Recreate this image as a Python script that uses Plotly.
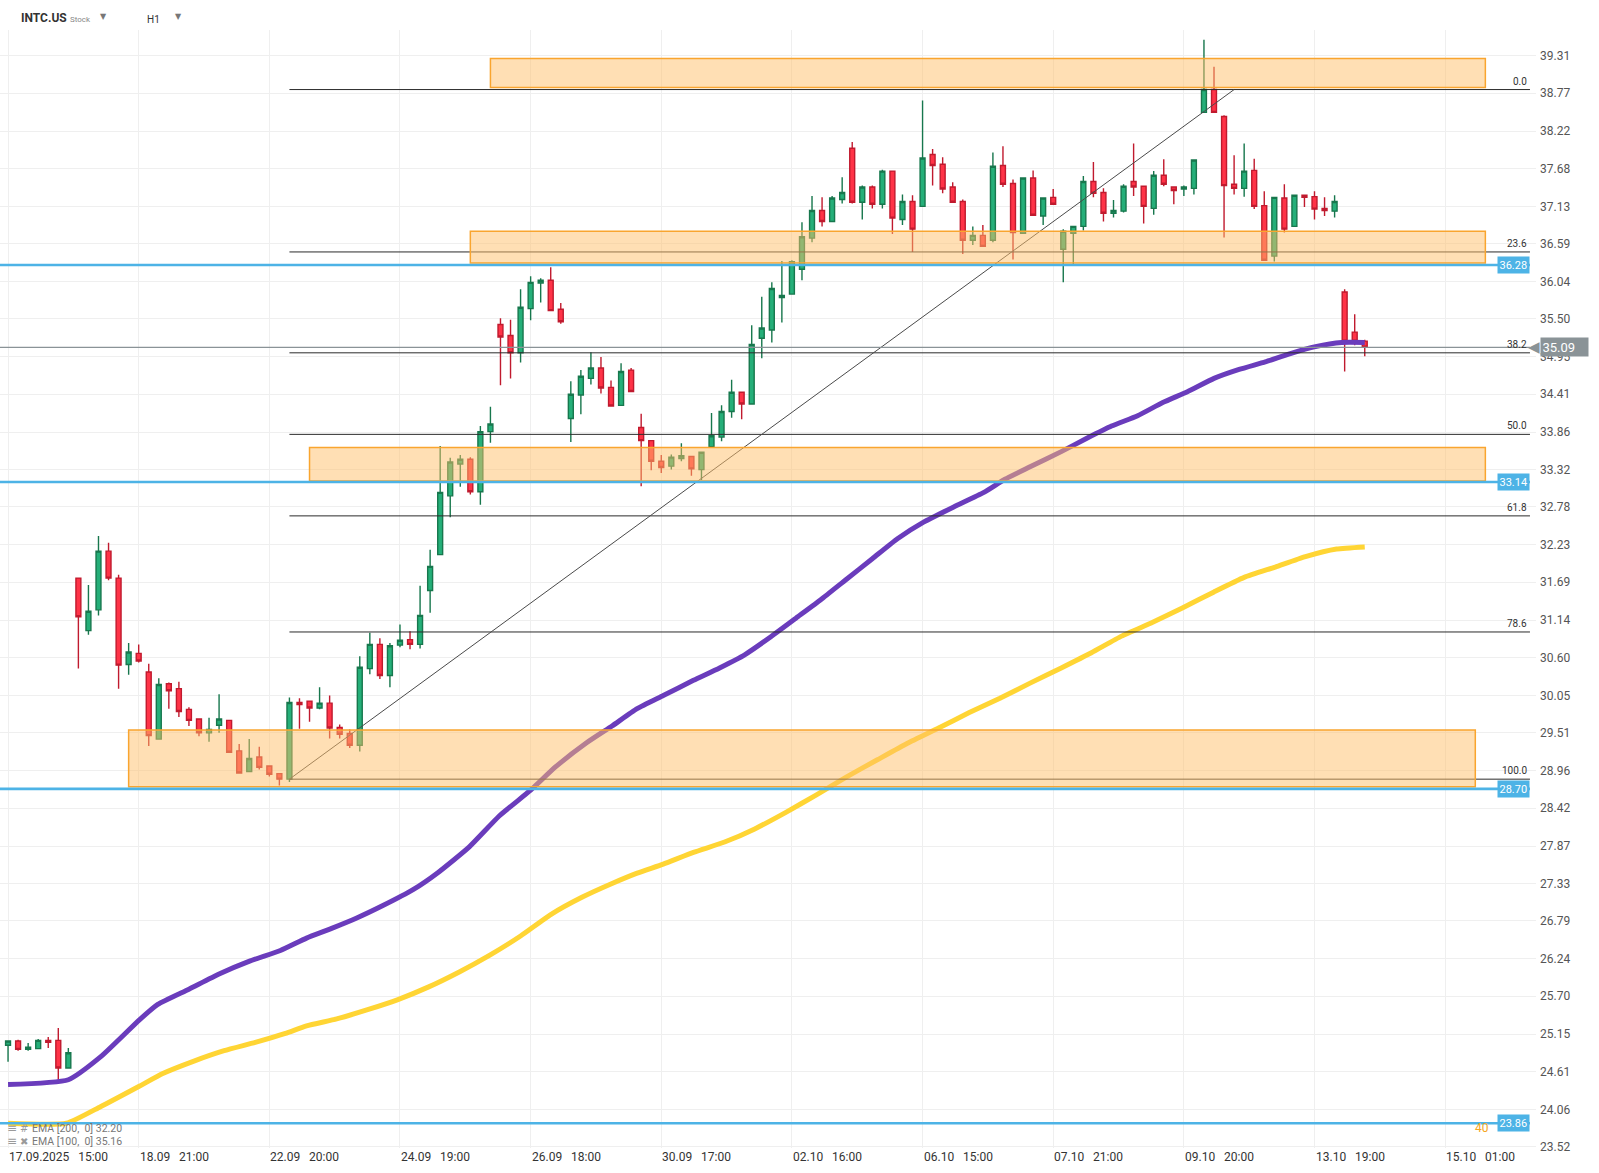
import plotly.graph_objects as go

# ---------------- data ----------------
opens = [24.99, 25.05, 24.93, 24.94, 25.06, 25.06, 24.66,
         31.75, 30.99, 31.29, 32.14, 31.75, 30.50, 30.66,
         30.39, 29.42, 30.22, 30.15, 29.85, 29.71, 29.51,
         29.62, 29.69, 29.25, 28.95, 29.16, 29.03, 28.92,
         28.84, 29.95, 29.97, 29.87, 29.94, 29.59, 29.50,
         29.33, 30.44, 30.79, 30.34, 30.78, 30.86, 30.79,
         31.57, 32.09, 32.94, 33.40, 33.47, 33.00, 33.87,
         35.42, 35.26, 35.01, 35.65, 36.02, 36.06, 35.64,
         34.06, 34.40, 34.64, 34.79, 34.51, 34.25, 34.76,
         33.93, 33.74, 33.44, 33.37, 33.48, 33.51, 33.32,
         33.65, 33.79, 34.16, 34.44, 34.27, 35.22, 35.34,
         35.81, 35.86, 36.22, 36.67, 37.07, 36.91, 37.23,
         37.97, 37.19, 37.41, 37.16, 37.64, 36.94, 37.20,
         37.13, 37.88, 37.74, 37.41, 37.20, 36.64, 36.71,
         36.64, 37.72, 37.46, 36.74, 37.54, 36.99, 37.26,
         36.51, 36.74, 36.84, 37.49, 37.33, 37.03, 37.06,
         37.49, 37.42, 37.10, 37.58, 37.41, 37.38, 37.39,
         38.49, 38.82, 38.43, 37.45, 37.39, 37.65, 37.14,
         36.41, 37.25, 36.84, 37.29, 37.27, 37.10, 37.06,
         35.89, 35.31, 35.18]
highs = [25.06, 25.07, 25.02, 25.08, 25.11, 25.24, 24.95,
         31.75, 31.65, 32.36, 32.26, 31.80, 30.81, 30.79,
         30.51, 30.30, 30.24, 30.25, 29.88, 29.71, 29.73,
         30.07, 29.69, 29.35, 29.42, 29.31, 29.03, 28.93,
         30.02, 30.01, 29.97, 30.17, 30.05, 29.63, 29.56,
         30.62, 30.96, 30.88, 30.81, 31.08, 30.98, 31.64,
         32.16, 33.66, 33.49, 33.53, 33.50, 33.95, 34.23,
         35.51, 35.49, 35.93, 36.12, 36.09, 36.25, 35.73,
         34.60, 34.76, 35.02, 34.95, 34.61, 34.86, 34.79,
         34.13, 33.74, 33.53, 33.54, 33.70, 33.51, 33.57,
         34.14, 34.25, 34.62, 34.44, 35.41, 35.82, 36.03,
         36.34, 36.35, 36.90, 37.28, 37.26, 37.28, 37.55,
         38.06, 37.43, 37.43, 37.66, 37.64, 37.30, 37.29,
         38.66, 37.96, 37.84, 37.48, 37.23, 36.84, 36.86,
         37.91, 38.00, 37.52, 37.54, 37.65, 37.25, 37.38,
         36.80, 36.84, 37.57, 37.77, 37.39, 37.22, 37.45,
         38.04, 37.42, 37.64, 37.81, 37.42, 37.43, 37.80,
         39.54, 39.15, 38.45, 37.87, 38.04, 37.82, 37.35,
         37.27, 37.45, 37.29, 37.30, 37.35, 37.26, 37.29,
         35.93, 35.57, 35.20]
lows = [24.75, 24.91, 24.91, 24.93, 24.95, 24.49, 24.66,
        30.44, 30.93, 31.21, 31.72, 30.15, 30.35, 30.53,
        29.32, 29.42, 29.86, 29.74, 29.61, 29.46, 29.38,
        29.51, 29.22, 28.92, 28.95, 28.98, 28.88, 28.75,
        28.80, 29.57, 29.67, 29.85, 29.43, 29.43, 29.29,
        29.24, 30.36, 30.29, 30.17, 30.75, 30.72, 30.73,
        31.25, 32.09, 32.63, 33.07, 32.96, 32.81, 33.71,
        34.54, 34.64, 34.87, 35.48, 35.74, 35.61, 35.43,
        33.72, 34.12, 34.55, 34.42, 34.24, 34.24, 34.45,
        33.08, 33.31, 33.27, 33.32, 33.44, 33.23, 33.17,
        33.65, 33.73, 34.07, 34.05, 34.27, 34.93, 35.16,
        35.45, 35.86, 36.06, 36.61, 36.84, 36.90, 37.17,
        37.17, 36.94, 37.10, 37.10, 36.73, 36.86, 36.47,
        37.13, 37.43, 37.32, 37.19, 36.44, 36.57, 36.55,
        36.61, 37.41, 36.36, 36.74, 37.00, 36.86, 37.16,
        36.03, 36.29, 36.78, 37.26, 36.91, 36.97, 37.04,
        37.28, 36.88, 37.01, 37.42, 37.16, 37.28, 37.30,
        38.49, 38.49, 36.68, 37.30, 37.27, 37.09, 36.35,
        36.33, 36.75, 36.84, 37.12, 36.94, 36.99, 36.97,
        34.74, 35.12, 34.96]
closes = [25.05, 24.93, 24.96, 25.06, 25.03, 24.66, 24.88,
          31.19, 31.27, 32.14, 31.75, 30.49, 30.68, 30.55,
          29.47, 30.21, 30.12, 29.82, 29.69, 29.51, 29.56,
          29.71, 29.23, 28.93, 29.14, 29.01, 28.91, 28.84,
          29.95, 29.92, 29.87, 29.94, 29.58, 29.49, 29.33,
          30.46, 30.79, 30.34, 30.77, 30.85, 30.79, 31.21,
          31.92, 32.99, 33.43, 33.47, 33.00, 33.87, 33.98,
          35.24, 35.01, 35.67, 36.03, 36.06, 35.62, 35.46,
          34.41, 34.67, 34.79, 34.50, 34.24, 34.74, 34.45,
          33.74, 33.44, 33.35, 33.50, 33.52, 33.33, 33.57,
          33.81, 34.16, 34.44, 34.27, 35.13, 35.37, 35.94,
          35.84, 36.33, 36.69, 37.07, 36.91, 37.25, 37.33,
          37.19, 37.41, 37.16, 37.64, 36.96, 37.20, 36.80,
          37.83, 37.72, 37.38, 37.19, 36.64, 36.71, 36.55,
          37.71, 37.45, 36.75, 37.54, 37.00, 37.25, 37.16,
          36.77, 36.84, 37.49, 37.32, 37.03, 37.07, 37.42,
          37.41, 37.13, 37.58, 37.45, 37.36, 37.41, 37.80,
          38.82, 38.49, 37.43, 37.39, 37.64, 37.13, 36.35,
          37.26, 36.80, 37.29, 37.26, 37.09, 37.07, 37.20,
          35.18, 35.18, 35.09]

# EMA readings (bar position, value)
ema100_x = [0, 6, 9.2, 13.1, 14.9, 18.0, 21.0, 24.1, 27.1, 29.7, 32.2, 34.7, 37.3, 40.3,
            42.8, 45.9, 48.9, 52.0, 54.5, 57.6, 60.1, 62.6, 65.2, 68.2, 70.8, 73.3, 75.8,
            78.4, 80.9, 83.4, 86.0, 88.5, 91.1, 94.1, 97.1, 99.2, 101.7, 104.8, 107.3,
            109.8, 112.4, 114.9, 117.4, 120.0, 122.5, 125.1, 127.6, 130.1, 132.7, 135]
ema100_y = [24.42, 24.49, 24.82, 25.36, 25.58, 25.80, 26.02, 26.21, 26.36, 26.54, 26.68,
            26.83, 27.01, 27.24, 27.49, 27.86, 28.31, 28.68, 29.02, 29.37, 29.61, 29.86,
            30.05, 30.27, 30.45, 30.64, 30.89, 31.17, 31.44, 31.73, 32.03, 32.32, 32.56,
            32.78, 32.99, 33.18, 33.36, 33.58, 33.77, 33.95, 34.10, 34.29, 34.45, 34.64,
            34.77, 34.88, 35.00, 35.10, 35.16, 35.16]
ema200_x = [0, 5.8, 9.2, 13.1, 15.4, 18.5, 21.5, 24.6, 27.6, 29.7, 32.7, 35.7, 38.8, 41.8,
            44.9, 47.9, 51.0, 54.0, 57.1, 60.1, 62.6, 65.2, 68.2, 71.3, 74.3, 77.4, 80.4,
            83.4, 86.5, 89.5, 92.6, 95.6, 98.7, 101.7, 104.8, 107.8, 110.8, 113.9, 116.9,
            120.0, 123.0, 126.1, 129.1, 132.2, 135]
ema200_y = [23.86, 23.86, 24.10, 24.40, 24.58, 24.76, 24.91, 25.03, 25.16, 25.27, 25.37,
            25.50, 25.65, 25.83, 26.05, 26.29, 26.57, 26.88, 27.13, 27.33, 27.48, 27.61,
            27.78, 27.93, 28.12, 28.36, 28.61, 28.87, 29.12, 29.36, 29.58, 29.80, 30.01,
            30.23, 30.45, 30.67, 30.91, 31.11, 31.32, 31.55, 31.76, 31.91, 32.06, 32.17,
            32.20]

tick_idx = [0, 13, 26, 39, 52, 65, 78, 91, 104, 117, 130, 143]
tick_labels = ["17.09.2025   15:00", "18.09   21:00", "22.09   20:00", "24.09   19:00",
               "26.09   18:00", "30.09   17:00", "02.10   16:00", "06.10   15:00",
               "07.10   21:00", "09.10   20:00", "13.10   19:00", "15.10   01:00"]

price_ticks = [39.31, 38.77, 38.22, 37.68, 37.13, 36.59, 36.04, 35.50, 34.95, 34.41,
               33.86, 33.32, 32.78, 32.23, 31.69, 31.14, 30.60, 30.05, 29.51, 28.96,
               28.42, 27.87, 27.33, 26.79, 26.24, 25.70, 25.15, 24.61, 24.06, 23.52]

fib_names = ["0.0", "23.6", "38.2", "50.0", "61.8", "78.6", "100.0"]
fib_prices = [38.82, 36.47, 35.01, 33.83, 32.65, 30.97, 28.84]
fib_start = 28

trend_x = [28, 122]
trend_y = [28.84, 38.82]

zone_x0 = [48, 46, 30, 12]
zone_x1 = [147, 147, 147, 146]
zone_lo = [38.85, 36.31, 33.155, 28.73]
zone_hi = [39.27, 36.77, 33.64, 29.55]

support_levels = [36.28, 33.14, 28.70, 23.86]
last_price = 35.09
legend_rows = ["EMA [200,  0] 32.20", "EMA [100,  0] 35.16"]

# ---------------- layout constants ----------------
W, H = 1599, 1173
ML, MR, MT, MB = 0, 63, 30, 25
PW, PH = W - ML - MR, H - MT - MB
X_RANGE = [-0.8, 152.04]
Y_RANGE = [23.502, 39.682]
LABEL_X = 151.44          # bar position of the right end of drawings

FONT = "Roboto"
BLUE = "#4DB3E6"
GREEN, GREEN_LINE = "#25AF79", "#17774D"
RED, RED_LINE = "#FF3347", "#C01A2E"

def px_x(p):
    return (p - ML) / PW

def px_y(p):
    return (H - MB - p) / PH

fig = go.Figure()

fig.add_trace(go.Scatter(x=ema200_x, y=ema200_y, mode="lines",
                         line=dict(color="#FFD534", width=5, shape="spline", smoothing=0.5),
                         hoverinfo="skip", showlegend=False))
fig.add_trace(go.Scatter(x=ema100_x, y=ema100_y, mode="lines",
                         line=dict(color="#6A3CBC", width=5, shape="spline", smoothing=0.5),
                         hoverinfo="skip", showlegend=False))
fig.add_trace(go.Candlestick(x=list(range(len(opens))), open=opens, high=highs, low=lows,
                             close=closes, whiskerwidth=0,
                             increasing=dict(fillcolor=GREEN, line=dict(color=GREEN_LINE, width=1.4)),
                             decreasing=dict(fillcolor=RED, line=dict(color=RED_LINE, width=1.4)),
                             showlegend=False, hoverinfo="skip"))

shapes = []
# fibonacci levels
for fp in fib_prices:
    shapes.append(dict(type="line", xref="x", yref="y", x0=fib_start, x1=LABEL_X,
                       y0=fp, y1=fp, line=dict(color="#2B2B2B", width=1), layer="above"))
# trend line
shapes.append(dict(type="line", xref="x", yref="y", x0=trend_x[0], x1=trend_x[1],
                   y0=trend_y[0], y1=trend_y[1], line=dict(color="#4A4A4A", width=1),
                   layer="above"))
# zones
for a, b, lo, hi in zip(zone_x0, zone_x1, zone_lo, zone_hi):
    shapes.append(dict(type="rect", xref="x", yref="y", x0=a, x1=b, y0=lo, y1=hi,
                       fillcolor="rgba(255,191,105,0.5)",
                       line=dict(color="#F9A52F", width=1.5), layer="above"))
# current price line
shapes.append(dict(type="line", xref="x", yref="y", x0=X_RANGE[0], x1=LABEL_X,
                   y0=last_price, y1=last_price, line=dict(color="#8A9397", width=1.2),
                   layer="above"))
# support lines
for s in support_levels:
    shapes.append(dict(type="line", xref="x", yref="y", x0=X_RANGE[0], x1=LABEL_X,
                       y0=s, y1=s, line=dict(color=BLUE, width=2.6), layer="above"))

ann = []
# x tick labels (left aligned at the grid line)
for t, lab in zip(tick_idx, tick_labels):
    ann.append(dict(x=t, xref="x", y=0, yref="paper", yanchor="top", xanchor="left",
                    text=lab.replace(" ", "\u00a0"), showarrow=False, yshift=-1,
                    font=dict(family=FONT, size=12, color="#333333"), borderpad=0))
# fib labels
for name, fp in zip(fib_names, fib_prices):
    ann.append(dict(x=LABEL_X, xref="x", y=fp, yref="y", xanchor="right", yanchor="bottom",
                    text=name, showarrow=False, xshift=-2, yshift=2,
                    font=dict(family=FONT, size=10, color="#333333"), borderpad=0))
# support labels
for s in support_levels:
    ann.append(dict(x=LABEL_X, xref="x", y=s, yref="y", xanchor="right", yanchor="middle",
                    text="%.2f" % s, showarrow=False, bgcolor=BLUE, borderpad=1.5,
                    font=dict(family=FONT, size=11, color="white")))
# current price tag
ann.append(dict(x=px_x(1542), xref="paper", y=last_price, yref="y", xanchor="right",
                yanchor="middle", text="\u25c0", showarrow=False,
                font=dict(family="DejaVu Sans", size=15, color="#8A9397")))
ann.append(dict(x=px_x(1540), xref="paper", y=last_price, yref="y", xanchor="left",
                yanchor="middle", text="35.09", showarrow=False, bgcolor="#8A9397",
                borderpad=1.5, width=44, align="left",
                font=dict(family=FONT, size=13, color="white")))
# small orange text near bottom right
ann.append(dict(x=px_x(1473), xref="paper", y=px_y(1128), yref="paper", xanchor="left",
                yanchor="middle", text="40", showarrow=False,
                font=dict(family=FONT, size=12, color="#F5A623")))
# header
ann.append(dict(x=px_x(19), xref="paper", y=px_y(18), yref="paper", xanchor="left",
                yanchor="middle", text="<b>INTC.US</b>", showarrow=False,
                font=dict(family=FONT, size=12, color="#333333")))
ann.append(dict(x=px_x(68), xref="paper", y=px_y(19), yref="paper", xanchor="left",
                yanchor="middle", text="Stock", showarrow=False,
                font=dict(family=FONT, size=8, color="#888888")))
ann.append(dict(x=px_x(98), xref="paper", y=px_y(16), yref="paper", xanchor="left",
                yanchor="middle", text="\u25bc", showarrow=False,
                font=dict(family="DejaVu Sans", size=8, color="#777777")))
ann.append(dict(x=px_x(145), xref="paper", y=px_y(19), yref="paper", xanchor="left",
                yanchor="middle", text="H1", showarrow=False,
                font=dict(family=FONT, size=10, color="#333333")))
ann.append(dict(x=px_x(173), xref="paper", y=px_y(16), yref="paper", xanchor="left",
                yanchor="middle", text="\u25bc", showarrow=False,
                font=dict(family="DejaVu Sans", size=8, color="#777777")))
# EMA legend
for i, (row, icon) in enumerate(zip(legend_rows, ["#", "\u2716"])):
    yy = 1128 + 13 * i
    ann.append(dict(x=px_x(5), xref="paper", y=px_y(yy), yref="paper", xanchor="left",
                    yanchor="middle", text="\u2261", showarrow=False,
                    font=dict(family="DejaVu Sans", size=12, color="#9A9A9A")))
    ann.append(dict(x=px_x(18), xref="paper", y=px_y(yy), yref="paper", xanchor="left",
                    yanchor="middle", text=icon, showarrow=False,
                    font=dict(family="DejaVu Sans", size=10, color="#9A9A9A")))
    ann.append(dict(x=px_x(30), xref="paper", y=px_y(yy), yref="paper", xanchor="left",
                    yanchor="middle", text=row.replace(" ", "\u00a0"), showarrow=False,
                    font=dict(family=FONT, size=10.5, color="#777777")))

fig.update_layout(
    width=W, height=H,
    margin=dict(l=ML, r=MR, t=MT, b=MB, autoexpand=False),
    paper_bgcolor="white", plot_bgcolor="white",
    shapes=shapes, annotations=ann,
    showlegend=False,
    xaxis=dict(range=X_RANGE, tickvals=tick_idx, showticklabels=False, showgrid=True,
               gridcolor="#EFEFEF", gridwidth=1, zeroline=False, showline=False,
               rangeslider=dict(visible=False), fixedrange=True),
    yaxis=dict(range=Y_RANGE, side="right", tickvals=price_ticks,
               ticktext=["%.2f" % v for v in price_ticks], showgrid=True,
               gridcolor="#EFEFEF", gridwidth=1, zeroline=False, showline=False,
               ticks="", ticklabelstandoff=3, automargin=False,
               tickfont=dict(family=FONT, size=12, color="#555555")),
)

fig.write_html("out.html",
               config={"displayModeBar": False},
               post_script="document.body.style.margin='0px';"
                           "document.body.style.overflow='hidden';")
